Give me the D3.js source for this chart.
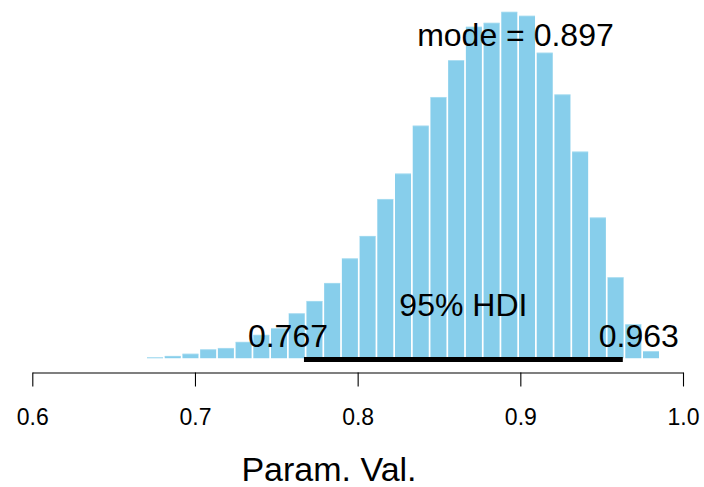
<!DOCTYPE html>
<html>
<head>
<meta charset="utf-8">
<script src="https://cdn.jsdelivr.net/npm/d3@7"></script>
<style>
  html, body { margin: 0; padding: 0; background: #fff; }
  svg { display: block; font-family: "Liberation Sans", Arial, Helvetica, sans-serif; }
</style>
</head>
<body>
<svg id="chart" width="704" height="487"></svg>
<script>
// Posterior histogram (density scale) with mode and 95% HDI
const binStart = 0.670;
const binWidth = 0.196 / 18;
const density = [
  0.03, 0.06, 0.11, 0.21, 0.24, 0.38, 0.54, 0.69, 1.03, 1.31,
  1.72, 2.28, 2.79, 3.63, 4.21, 5.30, 5.95, 6.79, 7.55, 7.64,
  7.89, 7.80, 6.96, 6.01, 4.71, 3.21, 1.85, 0.78, 0.17
];
const hdi = [0.767, 0.963];
const modeValue = 0.897;
const xTicks = [0.6, 0.7, 0.8, 0.9, 1.0];
const xLabel = "Param. Val.";
const hdiLabel = "95% HDI";

const bins = density.map((d, i) => ({
  x0: binStart + i * binWidth,
  x1: binStart + (i + 1) * binWidth,
  d
}));

const svg = d3.select("#chart");

const x = d3.scaleLinear().domain([0.6, 1.0]).range([32.3, 683]);
const yMax = d3.max(density);
// plot region with 4% padding above and below the data range
const y = d3.scaleLinear()
  .domain([-0.04 * yMax, 1.04 * yMax])
  .range([372.5, -2]);

// bars, separated by thin white gaps
const gap = 0.85;
const barsG = svg.append("g");
barsG.selectAll("rect.fill")
  .data(bins)
  .join("rect")
  .attr("class", "fill")
  .attr("x", d => x(d.x0) + gap)
  .attr("y", d => y(d.d))
  .attr("width", d => x(d.x1) - x(d.x0) - 2 * gap)
  .attr("height", d => y(0) - 0.4 - y(d.d))
  .attr("fill", "#87CEEB");
// faint light edge along each bar top
barsG.selectAll("line.top")
  .data(bins)
  .join("line")
  .attr("class", "top")
  .attr("x1", d => x(d.x0) + gap)
  .attr("x2", d => x(d.x1) - gap)
  .attr("y1", d => y(d.d) + 0.3)
  .attr("y2", d => y(d.d) + 0.3)
  .attr("stroke", "#b5e2f3")
  .attr("stroke-width", 0.6);

// HDI bar along the baseline
svg.append("line")
  .attr("x1", x(hdi[0]))
  .attr("x2", x(hdi[1]))
  .attr("y1", y(0) + 0.9)
  .attr("y2", y(0) + 0.9)
  .attr("stroke", "#000")
  .attr("stroke-width", 5);

// x axis
const axis = svg.append("g")
  .attr("transform", "translate(0,372.5)")
  .call(d3.axisBottom(x).tickValues(xTicks).tickFormat(d3.format(".1f"))
    .tickSizeInner(14).tickSizeOuter(0).tickPadding(0));
axis.select(".domain").attr("stroke", "#000").attr("stroke-width", 1.1);
axis.selectAll(".tick line").attr("stroke", "#000").attr("stroke-width", 1.1);
axis.selectAll(".tick text")
  .attr("y", 52)
  .attr("dy", null)
  .style("font-size", "23px")
  .attr("fill", "#000")
  .attr("font-family", "Liberation Sans, Arial, sans-serif");

// axis title
svg.append("text")
  .attr("x", 329)
  .attr("y", 481)
  .attr("text-anchor", "middle")
  .attr("font-size", 34)
  .attr("fill", "#000")
  .text(xLabel);

// mode label
svg.append("text")
  .attr("x", x(modeValue))
  .attr("y", 46)
  .attr("text-anchor", "middle")
  .attr("font-size", 32)
  .attr("fill", "#000")
  .text("mode = " + modeValue.toFixed(3));

// HDI labels
svg.append("text")
  .attr("x", x((hdi[0] + hdi[1]) / 2))
  .attr("y", 316)
  .attr("text-anchor", "middle")
  .attr("font-size", 32)
  .attr("fill", "#000")
  .text(hdiLabel);

const lowLabel = svg.append("text")
  .attr("y", 347)
  .attr("font-size", 32)
  .attr("fill", "#000")
  .text(hdi[0].toFixed(3));
const lowW = lowLabel.node().getComputedTextLength();
lowLabel.attr("x", x(hdi[0]) - 0.7 * lowW);

const highLabel = svg.append("text")
  .attr("y", 347)
  .attr("font-size", 32)
  .attr("fill", "#000")
  .text(hdi[1].toFixed(3));
const highW = highLabel.node().getComputedTextLength();
highLabel.attr("x", x(hdi[1]) - 0.3 * highW);
</script>
</body>
</html>
